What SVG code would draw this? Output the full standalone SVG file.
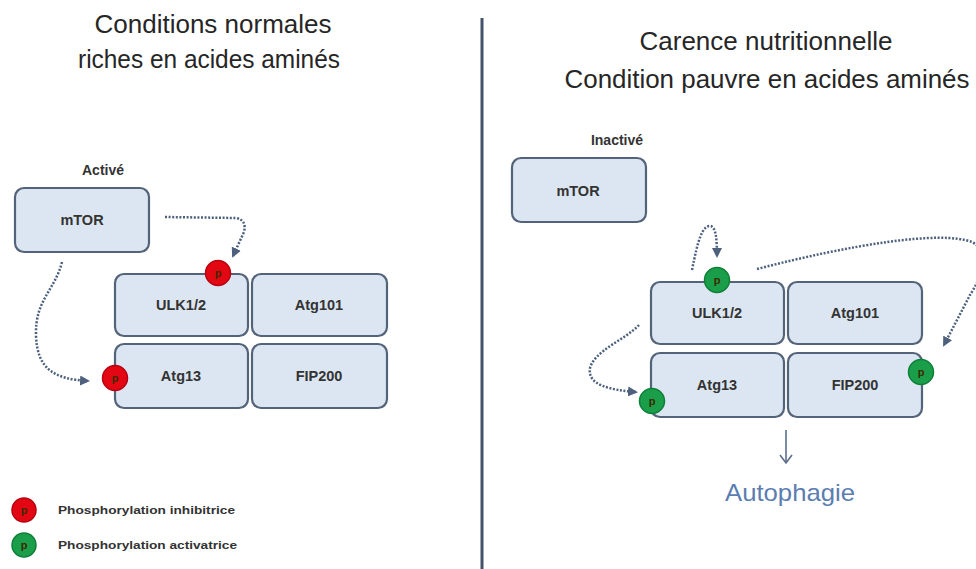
<svg xmlns="http://www.w3.org/2000/svg" width="976" height="569" viewBox="0 0 976 569">
<style>
.title{font-family:"Liberation Sans",Arial,sans-serif;font-size:26px;fill:#262626;text-anchor:middle}
.box{fill:#dce6f2;stroke:#53637a;stroke-width:2.2}
.lbl{font-family:"Liberation Sans",Arial,sans-serif;font-size:14.5px;font-weight:bold;fill:#333;text-anchor:middle}
.state{font-family:"Liberation Sans",Arial,sans-serif;font-size:14px;font-weight:bold;fill:#333;text-anchor:middle}
.leg{font-family:"Liberation Sans",Arial,sans-serif;font-size:11.5px;font-weight:bold;fill:#333}
.pr{fill:#e30613;stroke:#b80010;stroke-width:1.5}
.pg{fill:#1a9e4a;stroke:#0f7f38;stroke-width:1.5}
.pt{font-family:"Liberation Sans",Arial,sans-serif;font-size:11px;font-weight:bold;fill:#3a2a00;text-anchor:middle}
.con{fill:none;stroke:#4d607d;stroke-width:2.5;stroke-dasharray:2 1.6;marker-end:url(#ah)}
</style>
<defs>
<marker id="ah" viewBox="0 0 10 10" refX="8" refY="5" markerWidth="4" markerHeight="4" orient="auto" markerUnits="strokeWidth">
<path d="M0,0 L10,5 L0,10 Z" fill="#4d607d"/>
</marker>
</defs>
<rect width="976" height="569" fill="#fff"/>

<g id="titles">
<text class="title" x="213" y="33" textLength="237" lengthAdjust="spacingAndGlyphs">Conditions normales</text>
<text class="title" x="209" y="68" textLength="262" lengthAdjust="spacingAndGlyphs">riches en acides aminés</text>
<text class="title" x="766" y="50" textLength="253" lengthAdjust="spacingAndGlyphs">Carence nutritionnelle</text>
<text class="title" x="767" y="88" textLength="405" lengthAdjust="spacingAndGlyphs">Condition pauvre en acides aminés</text>
</g>

<line id="divider" x1="482" y1="18" x2="482" y2="569" stroke="#42536a" stroke-width="3"/>

<!-- Left panel -->
<text class="state" x="103" y="175">Activé</text>
<g id="mtor-l"><rect class="box" x="15" y="188" width="134" height="64" rx="9"/><text class="lbl" x="82" y="225">mTOR</text></g>
<g id="ulk-l"><rect class="box" x="115" y="274" width="133" height="62" rx="9"/><text class="lbl" x="181" y="310">ULK1/2</text></g>
<g id="atg101-l"><rect class="box" x="252" y="274" width="135" height="62" rx="9"/><text class="lbl" x="319" y="310">Atg101</text></g>
<g id="atg13-l"><rect class="box" x="115" y="344" width="133" height="64" rx="9"/><text class="lbl" x="181" y="381">Atg13</text></g>
<g id="fip200-l"><rect class="box" x="252" y="344" width="135" height="64" rx="9"/><text class="lbl" x="319" y="381">FIP200</text></g>
<g id="p-ulk-l"><circle class="pr" cx="218" cy="273" r="12.5"/><text class="pt" x="218" y="277">p</text></g>
<g id="p-atg13-l"><circle class="pr" cx="115" cy="378" r="12.5"/><text class="pt" x="115" y="382">p</text></g>

<!-- Right panel -->
<text class="state" x="617" y="145">Inactivé</text>
<g id="mtor-r"><rect class="box" x="512" y="158" width="134" height="64" rx="9"/><text class="lbl" x="578" y="196">mTOR</text></g>
<g id="ulk-r"><rect class="box" x="651" y="282" width="133" height="62" rx="9"/><text class="lbl" x="717" y="318">ULK1/2</text></g>
<g id="atg101-r"><rect class="box" x="788" y="282" width="134" height="62" rx="9"/><text class="lbl" x="855" y="318">Atg101</text></g>
<g id="atg13-r"><rect class="box" x="651" y="353" width="133" height="64" rx="9"/><text class="lbl" x="717" y="390">Atg13</text></g>
<g id="fip200-r"><rect class="box" x="788" y="353" width="134" height="64" rx="9"/><text class="lbl" x="855" y="390">FIP200</text></g>
<g id="p-ulk-r"><circle class="pg" cx="717" cy="280" r="12.5"/><text class="pt" x="717" y="284">p</text></g>
<g id="p-atg13-r"><circle class="pg" cx="652" cy="401" r="12.5"/><text class="pt" x="652" y="405">p</text></g>
<g id="p-fip200-r"><circle class="pg" cx="921" cy="372" r="12.5"/><text class="pt" x="921" y="376">p</text></g>

<g id="connectors">
<path class="con" d="M165,217 L236,218 Q247,220 244,232 L233,256"/>
<path class="con" d="M62,262 C55,290 35,300 36,335 C37,370 55,379 88,381"/>
<path class="con" d="M692,270 C698,240 702,226 710,226 C716,226 717,240 717,256"/>
<path class="con" d="M757,269 C850,245 940,230 972,242 C992,252 980,280 970,295 L944,345"/>
<path class="con" d="M639,325 C625,340 595,350 590,368 C587,385 610,390 636,392"/>
<g id="autophagy-arrow" fill="none" stroke="#5a6e8c" stroke-width="1.6">
<line x1="786" y1="430" x2="786" y2="463"/>
<path d="M780,455 L786,463 L792,455"/>
</g>
</g>

<text id="autophagie" x="790" y="501" font-family="'Liberation Sans',Arial,sans-serif" font-size="24" fill="#5b7db1" text-anchor="middle" textLength="130" lengthAdjust="spacingAndGlyphs">Autophagie</text>

<g id="legend">
<circle class="pr" cx="24" cy="510" r="12"/><text class="pt" x="24" y="514">p</text>
<text class="leg" x="58" y="514" textLength="177" lengthAdjust="spacingAndGlyphs">Phosphorylation inhibitrice</text>
<circle class="pg" cx="24" cy="545" r="12"/><text class="pt" x="24" y="549">p</text>
<text class="leg" x="58" y="549" textLength="179" lengthAdjust="spacingAndGlyphs">Phosphorylation activatrice</text>
</g>
</svg>
